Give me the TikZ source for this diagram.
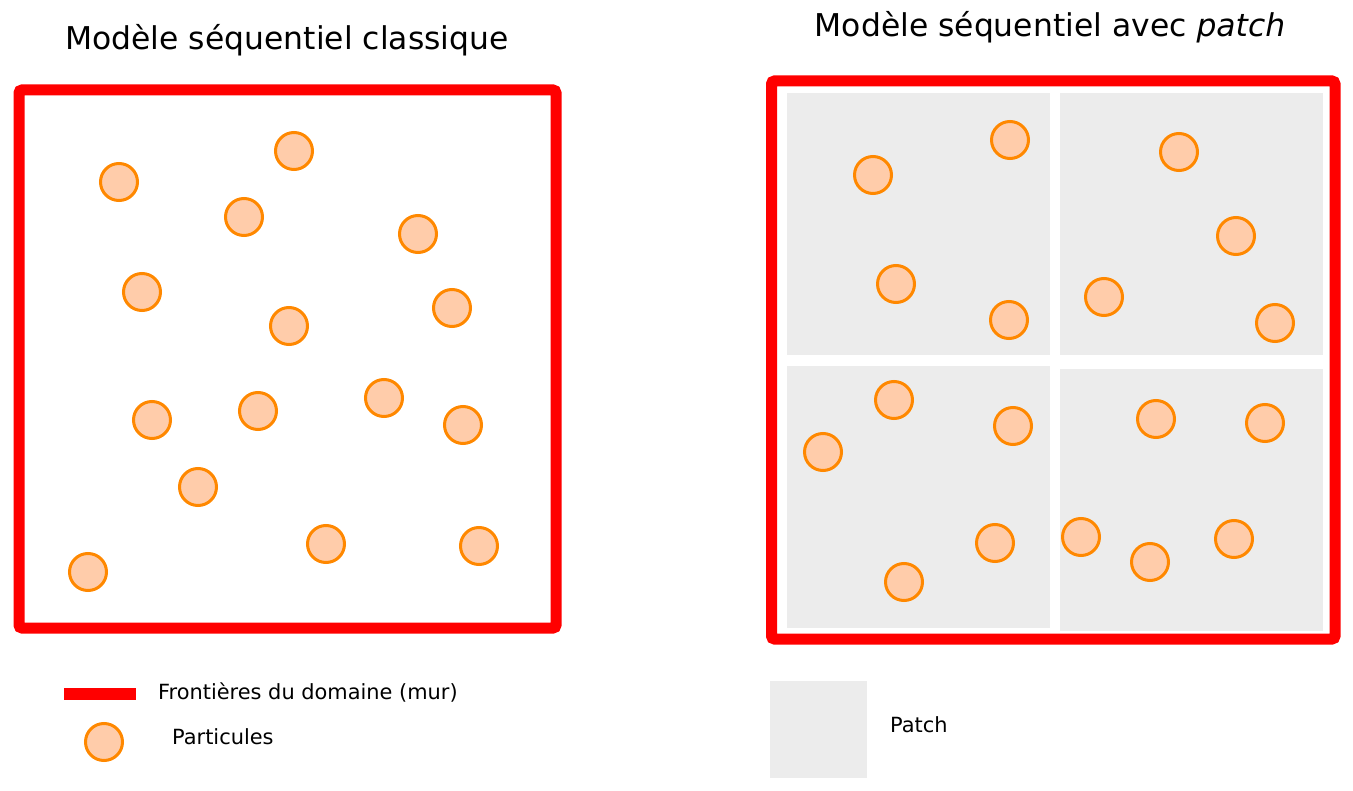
\documentclass[tikz,border=0pt]{standalone}
\usepackage{fontspec}
\setmainfont{DejaVu Sans}
\usetikzlibrary{positioning}
\definecolor{wallred}{RGB}{255,0,0}
\definecolor{partline}{RGB}{255,136,0}
\definecolor{partfill}{RGB}{255,204,170}
\definecolor{patchgray}{RGB}{236,236,236}
\begin{document}
\begin{tikzpicture}[x=1pt,y=-1pt,
 title/.style={font=\fontsize{31.4}{36}\selectfont,inner sep=0pt},
 legend/.style={font=\fontsize{20.9}{24}\selectfont,inner sep=0pt,anchor=west},
 wall/.style={draw=wallred,line width=11pt,rounded corners=3pt},
 patchbox/.style={fill=patchgray},
 particle/.style={circle,draw=partline,fill=partfill,line width=3pt,minimum size=37pt,inner sep=0pt}]
\useasboundingbox (0,0) rectangle (1353,791);
% titles
\node[title] (titleL) at (287,40) {Modèle séquentiel classique};
\node[title] (titleR) at (1050,27) {Modèle séquentiel avec \textit{patch}};
% patches
\fill[patchbox] (787,93) rectangle (1050,355);
\fill[patchbox] (1060,93) rectangle (1323,355);
\fill[patchbox] (787,366) rectangle (1050,628);
\fill[patchbox] (1060,369) rectangle (1323,631);
% walls
\draw[wall] (19,90) rectangle (556,628);
\draw[wall] (771.5,81) rectangle (1335,639);
% particles, classic model
\foreach \x/\y [count=\i] in {119/182,294/151,244/217,418/234,142/292,452/308,289/326,
  152/420,258/411,384/398,463/425,198/487,326/544,479/546,88/572}
  \node[particle] (pl\i) at (\x,\y) {};
% particles, patch model
\foreach \x/\y [count=\i] in {873/175,1010/140,896/284,1009/320,1179/152,1236/236,1104/297,
  1275/323,894/400,823/452,1013/426,995/543,904/582,1156/419,1265/423,1081/537,1150/562,1234/539}
  \node[particle] (pr\i) at (\x,\y) {};
% legend
\coordinate (barA) at (64,694);
\coordinate (barB) at (136,694);
\draw[draw=wallred,line width=12pt] (barA) -- (barB);
\node[legend] (wallTxt) at (158,693) {Frontières du domaine (mur)};
\node[particle] (partKey) at (104,742) {};
\node[legend] (partTxt) at (172,737) {Particules};
\fill[patchbox] (770,681) rectangle (867,778);
\node[legend] (patchTxt) at (890,725) {Patch};
\end{tikzpicture}
\end{document}
